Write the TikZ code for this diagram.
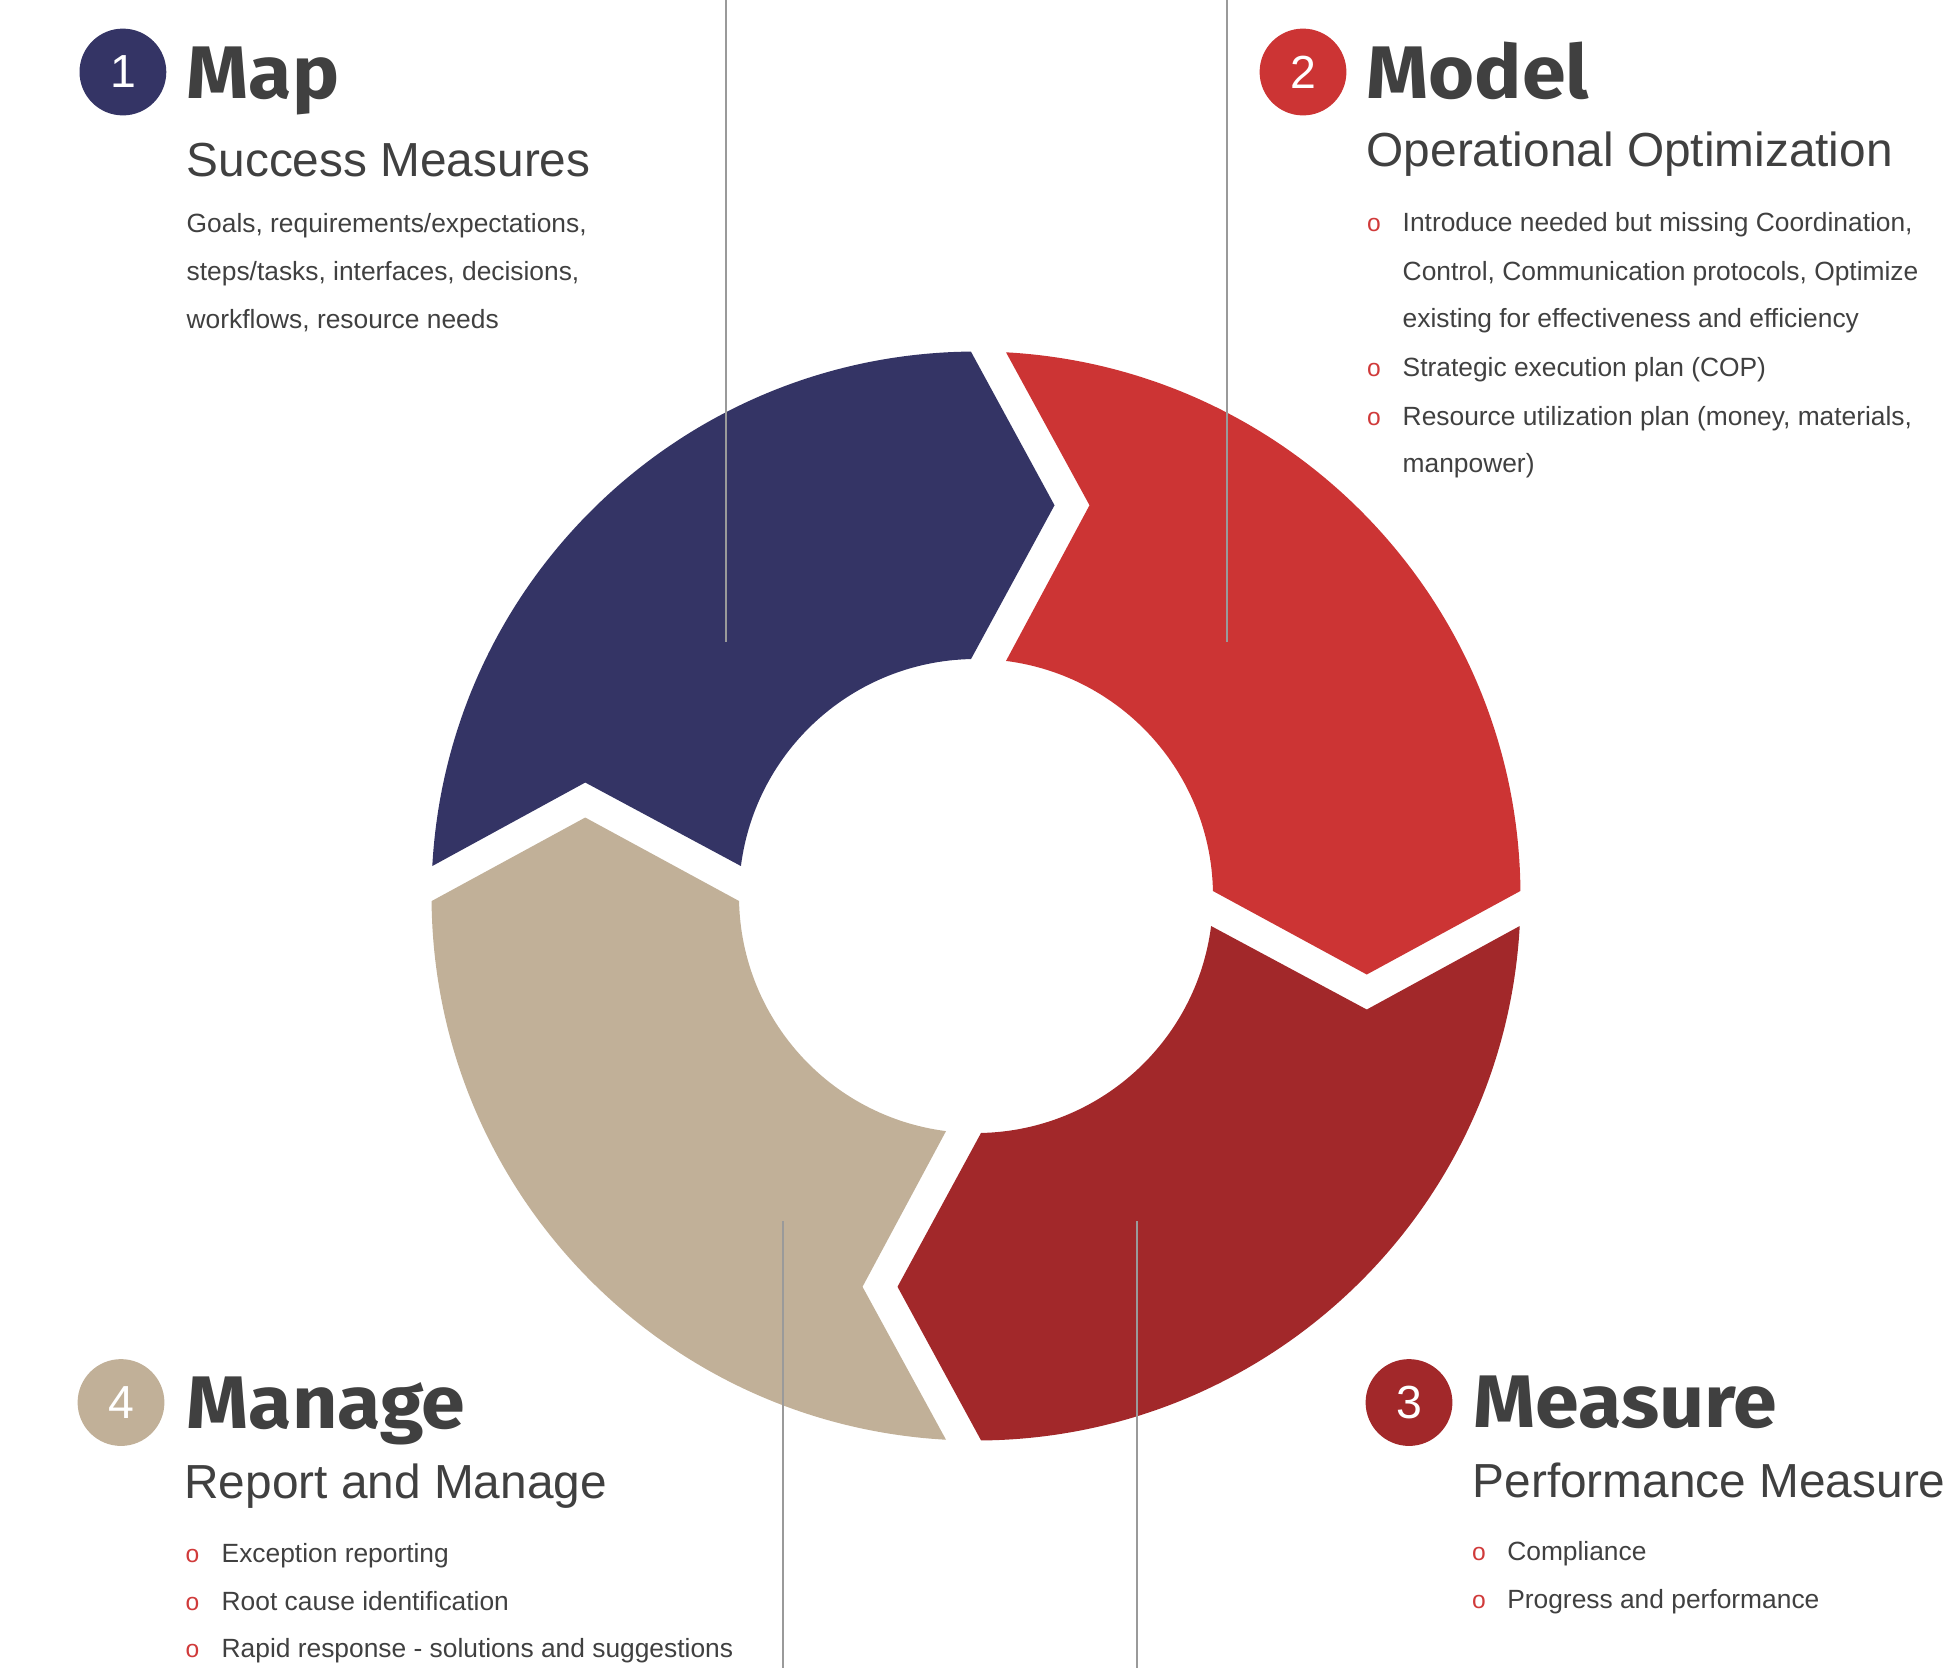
\documentclass[tikz,border=0pt]{standalone}
\usepackage{fontspec}
\setmainfont{Liberation Sans}
\newfontfamily\headfont{Fira Sans}[FakeStretch=1.06]
\usetikzlibrary{positioning}

\definecolor{mapblue}{HTML}{343465}
\definecolor{modelred}{HTML}{CC3434}
\definecolor{measurered}{HTML}{A2282A}
\definecolor{managetan}{HTML}{C1B098}
\definecolor{textgray}{HTML}{404040}
\definecolor{bulletred}{HTML}{D03A3A}
\definecolor{guidegray}{HTML}{9A9A9A}

\begin{document}
\begin{tikzpicture}[
    numdot/.style={circle, inner sep=0pt, minimum size=0.868cm, text=white, font=\fontsize{13.2}{15}\selectfont},
    headtxt/.style={anchor=base west, inner sep=0pt, text=textgray, font=\headfont\bfseries\fontsize{21.2}{25}\selectfont},
    subtxt/.style={anchor=base west, inner sep=0pt, text=textgray, font=\fontsize{13.6}{15}\selectfont},
    bodytxt/.style={anchor=base west, inner sep=0pt, text=textgray, font=\fontsize{7.5}{9}\selectfont},
    bullet/.style={anchor=base, inner sep=0pt, text=bulletred, font=\fontsize{7}{9}\selectfont},
    guide/.style={draw=guidegray, line width=0.4pt},
    ringseg/.style={insert path={(-5.437,0.30) arc[start angle=176.84, end angle=90.53, radius=5.445]
        -- (0.785,3.9075) -- (-0.05,2.3695) arc[start angle=91.21, end angle=172.73, radius=2.37]
        -- (-3.9075,1.135) -- cycle}}
]
    \useasboundingbox (0,0) rectangle (19.46,-16.68);

    % Cycle ring, one chevron segment per phase
    \begin{scope}[shift={(9.76,-8.96)}]
        \fill[mapblue] [ringseg];
        \fill[modelred, rotate=-90] [ringseg];
        \fill[measurered, rotate=-180] [ringseg];
        \fill[managetan, rotate=90] [ringseg];
    \end{scope}

    % Thin guide lines
    \draw[guide] (7.26,0) -- (7.26,-6.417);
    \draw[guide] (12.27,0) -- (12.27,-6.417);
    \draw[guide] (7.83,-12.21) -- (7.83,-16.68);
    \draw[guide] (11.37,-12.21) -- (11.37,-16.68);

    % 1 Map
    \node[numdot, fill=mapblue] (num1) at (1.229,-0.72) {1};
    \node[headtxt] (maphead) at (1.86,-0.983) {Map};
    \node[subtxt] (mapsub) at (1.86,-1.76) {Success Measures};
    \node[bodytxt] (maptxt1) at (1.86,-2.323) {Goals, requirements/expectations,};
    \node[bodytxt] (maptxt2) at (1.86,-2.80) {steps/tasks, interfaces, decisions,};
    \node[bodytxt] (maptxt3) at (1.86,-3.283) {workflows, resource needs};

    % 2 Model
    \node[numdot, fill=modelred] (num2) at (13.03,-0.72) {2};
    \node[headtxt] (modelhead) at (13.66,-0.983) {Model};
    \node[subtxt] (modelsub) at (13.66,-1.66) {Operational Optimization};
    \node[bullet] (modelb1) at (13.74,-2.317) {o};
    \node[bodytxt] (modeltxt1) at (14.02,-2.317) {Introduce needed but missing Coordination,};
    \node[bodytxt] (modeltxt1b) at (14.02,-2.80) {Control, Communication protocols, Optimize};
    \node[bodytxt] (modeltxt1c) at (14.02,-3.277) {existing for effectiveness and efficiency};
    \node[bullet] (modelb2) at (13.74,-3.76) {o};
    \node[bodytxt] (modeltxt2) at (14.02,-3.76) {Strategic execution plan (COP)};
    \node[bullet] (modelb3) at (13.74,-4.25) {o};
    \node[bodytxt] (modeltxt3) at (14.02,-4.25) {Resource utilization plan (money, materials,};
    \node[bodytxt] (modeltxt3b) at (14.02,-4.727) {manpower)};

    % 3 Measure
    \node[numdot, fill=measurered] (num3) at (14.09,-14.025) {3};
    \node[headtxt] (measurehead) at (14.73,-14.27) {Measure};
    \node[subtxt] (measuresub) at (14.72,-14.97) {Performance Measure};
    \node[bullet] (measureb1) at (14.79,-15.607) {o};
    \node[bodytxt] (measuretxt1) at (15.066,-15.607) {Compliance};
    \node[bullet] (measureb2) at (14.79,-16.083) {o};
    \node[bodytxt] (measuretxt2) at (15.066,-16.083) {Progress and performance};

    % 4 Manage
    \node[numdot, fill=managetan] (num4) at (1.21,-14.025) {4};
    \node[headtxt] (managehead) at (1.86,-14.283) {Manage};
    \node[subtxt] (managesub) at (1.837,-14.983) {Report and Manage};
    \node[bullet] (manageb1) at (1.924,-15.627) {o};
    \node[bodytxt] (managetxt1) at (2.21,-15.627) {Exception reporting};
    \node[bullet] (manageb2) at (1.924,-16.10) {o};
    \node[bodytxt] (managetxt2) at (2.21,-16.10) {Root cause identification};
    \node[bullet] (manageb3) at (1.924,-16.573) {o};
    \node[bodytxt] (managetxt3) at (2.21,-16.573) {Rapid response - solutions and suggestions};
\end{tikzpicture}
\end{document}
